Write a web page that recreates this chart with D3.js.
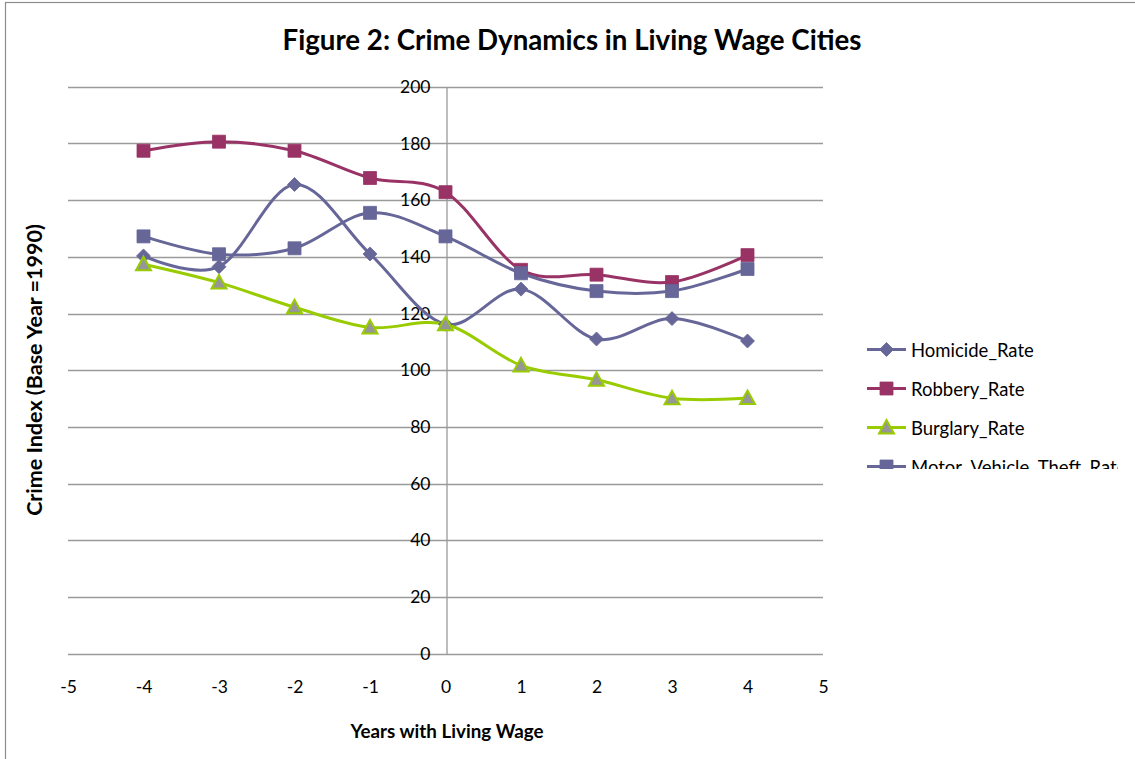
<!DOCTYPE html>
<html>
<head>
<meta charset="utf-8">
<script src="https://cdn.jsdelivr.net/npm/d3@7"></script>
<style>
  html, body { margin: 0; padding: 0; background: #fff; }
  svg { display: block; }
  text { font-family: Lato, "Open Sans", sans-serif; fill: #000; }
</style>
</head>
<body>
<svg id="chart" width="1135" height="759"></svg>
<script>
// Years relative to living wage adoption
const years = [-4, -3, -2, -1, 0, 1, 2, 3, 4];

// Crime index series (base year 1990 = 100)
const homicide = [140.3, 136.5, 165.5, 141.0, 116.2, 128.6, 111.0, 118.2, 110.3];
const robbery  = [177.4, 180.6, 177.4, 167.8, 162.8, 135.4, 133.7, 131.1, 140.6];
const burglary = [137.4, 130.9, 122.2, 115.1, 116.2, 101.7, 96.6, 90.1, 90.2];
const motorVehicleTheft = [147.2, 140.9, 143.0, 155.5, 147.2, 134.2, 127.9, 127.9, 135.7];

const seriesNames = ["Homicide_Rate", "Robbery_Rate", "Burglary_Rate", "Motor_Vehicle_Theft_Rate"];
const xTicks = [-5, -4, -3, -2, -1, 0, 1, 2, 3, 4, 5];
const yTicks = [0, 20, 40, 60, 80, 100, 120, 140, 160, 180, 200];

const titleText = "Figure 2: Crime Dynamics in Living Wage Cities";
const xTitle = "Years with Living Wage";
const yTitle = "Crime Index (Base Year =1990)";

const series = [
  { name: seriesNames[0], values: homicide, line: "#666699", fill: "#666699", stroke: "#666699", shape: "diamond" },
  { name: seriesNames[1], values: robbery, line: "#993366", fill: "#993366", stroke: "#993366", shape: "square" },
  { name: seriesNames[2], values: burglary, line: "#99cc00", fill: "#969696", stroke: "#99cc00", shape: "triangle" },
  { name: seriesNames[3], values: motorVehicleTheft, line: "#666699", fill: "#666699", stroke: "#666699", shape: "square" }
];

const svg = d3.select("#chart");

// outer chart frame (only top and left edges fall inside the view)
svg.append("rect")
  .attr("x", 5.5).attr("y", 2.5)
  .attr("width", 1200).attr("height", 800)
  .attr("fill", "none").attr("stroke", "#8c8c8c").attr("stroke-width", 1.2);

const x = d3.scaleLinear().domain([-5, 5]).range([68, 823]);
const y = d3.scaleLinear().domain([0, 200]).range([653.7, 86.7]);

// horizontal gridlines
svg.append("g")
  .selectAll("line")
  .data(yTicks)
  .join("line")
  .attr("x1", x(-5)).attr("x2", x(5))
  .attr("y1", d => Math.round(y(d)) + 0.5).attr("y2", d => Math.round(y(d)) + 0.5)
  .attr("stroke", "#9a9a9a").attr("stroke-width", 1.3);

// vertical value axis crossing at year 0
const yAxis = d3.axisLeft(y).tickValues(yTicks).tickSize(0).tickPadding(16);
const yAxisG = svg.append("g")
  .attr("transform", `translate(${Math.round(x(0)) + 0.5},0)`)
  .call(yAxis);
yAxisG.select(".domain").attr("stroke", "#9a9a9a").attr("stroke-width", 1.3);
yAxisG.selectAll("text")
  .style("font-family", "Lato, sans-serif")
  .style("font-size", "17.5px")
  .attr("fill", "#000");

// year labels below the plot
const xAxis = d3.axisBottom(x).tickValues(xTicks).tickSize(0).tickPadding(0).tickFormat(d3.format("d"));
const xAxisG = svg.append("g")
  .attr("transform", `translate(0,${y(0) + 27})`)
  .call(xAxis);
xAxisG.select(".domain").remove();
xAxisG.selectAll("text")
  .style("font-family", "Lato, sans-serif")
  .style("font-size", "17.5px")
  .attr("fill", "#000")
  .text(d => d < 0 ? "-" + Math.abs(d) : d);

// smoothed series lines
const line = d3.line()
  .x((d, i) => x(years[i]))
  .y(d => y(d))
  .curve(d3.curveCardinal.tension(0));

const plot = svg.append("g");
series.forEach(s => {
  plot.append("path")
    .datum(s.values)
    .attr("d", line)
    .attr("fill", "none")
    .attr("stroke", s.line)
    .attr("stroke-width", 3)
    .attr("stroke-linejoin", "round");
});

function markerPath(shape) {
  if (shape === "diamond") return "M0,-7L7,0L0,7L-7,0Z";
  if (shape === "square") return "M-6.5,-6.5H6.5V6.5H-6.5Z";
  return "M0,-7.5L7.5,6H-7.5Z";
}

series.forEach(s => {
  plot.append("g")
    .selectAll("path")
    .data(s.values)
    .join("path")
    .attr("transform", (d, i) => `translate(${x(years[i])},${y(d)})`)
    .attr("d", markerPath(s.shape))
    .attr("fill", s.fill)
    .attr("stroke", s.stroke)
    .attr("stroke-width", s.shape === "triangle" ? 2 : 0.8)
    .attr("stroke-linejoin", "miter");
});

// title
svg.append("text")
  .attr("x", 572).attr("y", 50)
  .attr("text-anchor", "middle")
  .style("font-size", "27.7px").style("font-weight", "bold")
  .text(titleText);

// axis titles
svg.append("text")
  .attr("x", 447).attr("y", 738)
  .attr("text-anchor", "middle")
  .style("font-size", "18.8px").style("font-weight", "bold")
  .text(xTitle);

svg.append("text")
  .attr("transform", "translate(42,370) rotate(-90)")
  .attr("text-anchor", "middle")
  .style("font-size", "21.5px").style("font-weight", "bold")
  .text(yTitle);

// legend, clipped by its box
svg.append("clipPath").attr("id", "legendClip")
  .append("rect").attr("x", 850).attr("y", 330).attr("width", 268).attr("height", 139);

const legend = svg.append("g").attr("clip-path", "url(#legendClip)");
const rowY = [349.5, 388.5, 427.5, 466.5];
series.forEach((s, i) => {
  const g = legend.append("g").attr("transform", `translate(0,${rowY[i]})`);
  g.append("line")
    .attr("x1", 867).attr("x2", 906)
    .attr("stroke", s.line).attr("stroke-width", 3);
  g.append("path")
    .attr("transform", "translate(886.5,0)")
    .attr("d", markerPath(s.shape))
    .attr("fill", s.fill)
    .attr("stroke", s.stroke)
    .attr("stroke-width", s.shape === "triangle" ? 2 : 0.8);
  g.append("text")
    .attr("x", 911).attr("y", 7)
    .style("font-size", "18.5px")
    .text(s.name);
});
</script>
</body>
</html>
